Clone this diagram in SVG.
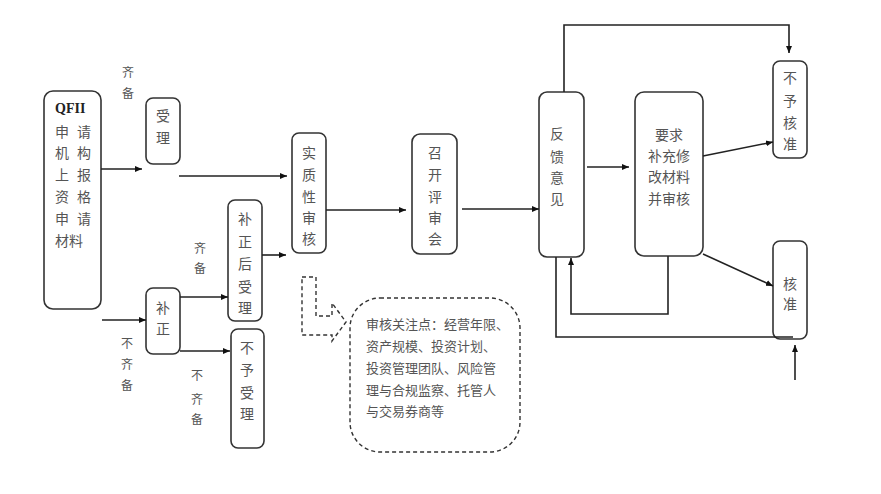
<svg xmlns="http://www.w3.org/2000/svg" width="881" height="494" viewBox="0 0 881 494">
<defs>
<marker id="ah" markerWidth="8" markerHeight="8" refX="7" refY="4" orient="auto" markerUnits="userSpaceOnUse">
<path d="M0,1 L7,4 L0,7 Z" fill="#111"/>
</marker>
<style>
.box{fill:#fff;stroke:#333;stroke-width:1.6}
.t{font-family:"Noto Sans CJK SC","Liberation Serif",sans-serif;font-size:14px;fill:#555;text-anchor:middle;dominant-baseline:central}
.s{font-size:12px}
.c{fill:none;stroke:#222;stroke-width:1.6}
.d{fill:none;stroke:#333;stroke-width:1.4;stroke-dasharray:4,3}
.n{font-family:"Noto Sans CJK SC",sans-serif;font-size:13px;fill:#555;dominant-baseline:central}
</style>
</defs>
<rect width="881" height="494" fill="#fff"/>

<g id="qfii">
<rect class="box" x="44" y="91" width="57" height="218" rx="9"/>
<text x="55" y="108" font-family="Liberation Serif,serif" font-size="14" font-weight="bold" fill="#222" dominant-baseline="central">QFII</text>
<text class="t" x="62" y="131">申</text><text class="t" x="84" y="131">请</text>
<text class="t" x="62" y="152">机</text><text class="t" x="84" y="152">构</text>
<text class="t" x="62" y="174">上</text><text class="t" x="84" y="174">报</text>
<text class="t" x="62" y="196">资</text><text class="t" x="84" y="196">格</text>
<text class="t" x="62" y="218">申</text><text class="t" x="84" y="218">请</text>
<text class="t" x="69" y="240">材料</text>
</g>

<g id="shouli">
<rect class="box" x="146" y="98" width="34" height="66" rx="7"/>
<text class="t" x="163" y="115">受</text><text class="t" x="163" y="137">理</text>
</g>

<g id="buzheng">
<rect class="box" x="146" y="288" width="34" height="66" rx="7"/>
<text class="t" x="163" y="307">补</text><text class="t" x="163" y="328">正</text>
</g>

<g id="buzhenghoushouli">
<rect class="box" x="228" y="200" width="34" height="121" rx="7"/>
<text class="t" x="245" y="218">补</text><text class="t" x="245" y="241">正</text><text class="t" x="245" y="263">后</text><text class="t" x="245" y="286">受</text><text class="t" x="245" y="307">理</text>
</g>

<g id="buyushouli">
<rect class="box" x="231" y="329" width="33" height="119" rx="7"/>
<text class="t" x="247" y="347">不</text><text class="t" x="247" y="369">予</text><text class="t" x="247" y="392">受</text><text class="t" x="247" y="413">理</text>
</g>

<g id="shizhixingshenhe">
<rect class="box" x="292" y="133" width="34" height="120" rx="7"/>
<text class="t" x="309" y="152">实</text><text class="t" x="309" y="174">质</text><text class="t" x="309" y="196">性</text><text class="t" x="309" y="217">审</text><text class="t" x="309" y="238">核</text>
</g>

<g id="zhaokai">
<rect class="box" x="412" y="134" width="45" height="120" rx="8"/>
<text class="t" x="435" y="152">召</text><text class="t" x="435" y="174">开</text><text class="t" x="435" y="196">评</text><text class="t" x="435" y="217">审</text><text class="t" x="435" y="238">会</text>
</g>

<g id="fankui">
<rect class="box" x="539" y="92" width="45" height="165" rx="8"/>
<text class="t" x="557" y="133">反</text><text class="t" x="557" y="156">馈</text><text class="t" x="557" y="177">意</text><text class="t" x="557" y="198">见</text>
</g>

<g id="yaoqiu">
<rect class="box" x="635" y="92" width="68" height="164" rx="9"/>
<text class="t" x="669" y="134">要求</text><text class="t" x="669" y="155">补充修</text><text class="t" x="669" y="176">改材料</text><text class="t" x="669" y="198">并审核</text>
</g>

<g id="buyuhezhun">
<rect class="box" x="773" y="61" width="34" height="97" rx="7"/>
<text class="t" x="790" y="77">不</text><text class="t" x="790" y="100">予</text><text class="t" x="790" y="122">核</text><text class="t" x="790" y="143">准</text>
</g>

<g id="hezhun">
<rect class="box" x="773" y="241" width="34" height="98" rx="7"/>
<text class="t" x="790" y="283">核</text><text class="t" x="790" y="303">准</text>
</g>

<g id="note">
<path class="d" d="M302,277 L316,277 L316,316 L332,316 L332,303 L346,322 L332,341 L332,335 L302,335 Z"/>
<rect class="d" x="350" y="298" width="170" height="154" rx="30"/>
<text class="n" x="366" y="323">审核关注点：经营年限、</text>
<text class="n" x="366" y="345">资产规模、投资计划、</text>
<text class="n" x="366" y="367">投资管理团队、风险管</text>
<text class="n" x="366" y="389">理与合规监察、托管人</text>
<text class="n" x="366" y="410">与交易券商等</text>
</g>

<g id="labels">
<text class="t s" x="128" y="71">齐</text><text class="t s" x="128" y="92">备</text>
<text class="t s" x="200" y="247">齐</text><text class="t s" x="200" y="267">备</text>
<text class="t s" x="127" y="342">不</text><text class="t s" x="127" y="363">齐</text><text class="t s" x="127" y="384">备</text>
<text class="t s" x="197" y="374">不</text><text class="t s" x="197" y="398">齐</text><text class="t s" x="197" y="418">备</text>
</g>

<g id="connectors">
<line class="c" x1="101" y1="169" x2="142" y2="169" marker-end="url(#ah)"/>
<line class="c" x1="179" y1="176" x2="287" y2="176" marker-end="url(#ah)"/>
<line class="c" x1="102" y1="320" x2="146" y2="320" marker-end="url(#ah)"/>
<line class="c" x1="180" y1="297" x2="228" y2="297" marker-end="url(#ah)"/>
<line class="c" x1="180" y1="351" x2="230" y2="351" marker-end="url(#ah)"/>
<line class="c" x1="262" y1="255" x2="286" y2="255" marker-end="url(#ah)"/>
<line class="c" x1="326" y1="210" x2="406" y2="210" marker-end="url(#ah)"/>
<line class="c" x1="462" y1="209" x2="539" y2="209" marker-end="url(#ah)"/>
<line class="c" x1="587" y1="167" x2="629" y2="167" marker-end="url(#ah)"/>
<polyline class="c" points="564,92 564,25 789,25 789,53" marker-end="url(#ah)"/>
<line class="c" x1="703" y1="156" x2="773" y2="142" marker-end="url(#ah)"/>
<line class="c" x1="703" y1="254" x2="773" y2="286" marker-end="url(#ah)"/>
<polyline class="c" points="668,256 668,314 571,314 571,258" marker-end="url(#ah)"/>
<polyline class="c" points="556,257 556,337 793,337"/>
<line class="c" x1="795" y1="380" x2="795" y2="345" marker-end="url(#ah)"/>
</g>
</svg>
